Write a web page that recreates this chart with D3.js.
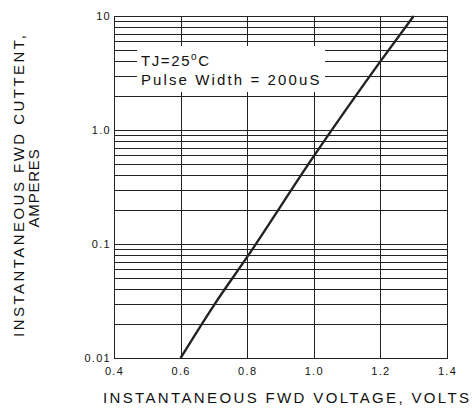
<!DOCTYPE html>
<html>
<head>
<meta charset="utf-8">
<style>
  body { margin: 0; background: #fff; }
  svg { font-family: "Liberation Sans", Arial, sans-serif; }
  .grid line { stroke: #222; stroke-width: 1px; shape-rendering: crispEdges; }
  .tick text { font-size: 11px; letter-spacing: 1.3px; fill: #111; }
  .label { font-size: 15px; fill: #111; }
  .note { font-size: 15px; letter-spacing: 1.6px; fill: #111; }
</style>
</head>
<body>
<script src="https://cdn.jsdelivr.net/npm/d3@7"></script>
<script>
// forward voltage (V) vs instantaneous current (A)
var voltage = [0.6, 0.7, 0.8, 1.0, 1.2, 1.3];
var current = [0.01, 0.029, 0.077, 0.59, 4.0, 10];

var xTicks = [0.4, 0.6, 0.8, 1.0, 1.2, 1.4];
var xTickLabels = ["0.4", "0.6", "0.8", "1.0", "1.2", "1.4"];
var yTicks = [0.01, 0.1, 1, 10];
var yTickLabels = ["0.01", "0.1", "1.0", "10"];

var W = 472, H = 412;
var margin = {top: 16, right: 25, bottom: 54, left: 114};
var width = W - margin.left - margin.right,
    height = H - margin.top - margin.bottom;

var svg = d3.select("body").append("svg")
    .attr("width", W)
    .attr("height", H);

var g = svg.append("g")
    .attr("transform", "translate(" + margin.left + "," + margin.top + ")");

var x = d3.scaleLinear().domain([0.4, 1.4]).range([0, width]);
var y = d3.scaleLog().domain([0.01, 10]).range([height, 0]);

// minor log lines 2..9 in every decade
var yMinor = [];
[0.01, 0.1, 1].forEach(function(d) {
  for (var k = 2; k <= 9; k++) yMinor.push(+(d * k).toPrecision(3));
});

var grid = g.append("g").attr("class", "grid");
grid.selectAll(".h")
    .data(yTicks.concat(yMinor))
  .enter().append("line")
    .attr("x1", 0).attr("x2", width)
    .attr("y1", function(d) { return Math.round(y(d)) + 0.5; })
    .attr("y2", function(d) { return Math.round(y(d)) + 0.5; });
grid.selectAll(".v")
    .data(xTicks)
  .enter().append("line")
    .attr("y1", 0).attr("y2", height)
    .attr("x1", function(d) { return Math.round(x(d)) + 0.5; })
    .attr("x2", function(d) { return Math.round(x(d)) + 0.5; });

// white box behind the test conditions
g.append("rect")
    .attr("x", 23).attr("y", 30)
    .attr("width", 188).attr("height", 46)
    .attr("fill", "#fff");

var note = g.append("text").attr("class", "note")
    .attr("x", 27).attr("y", 50);
note.append("tspan").text("TJ=25");
note.append("tspan").attr("dy", -6).style("font-size", "10px").text("o");
note.append("tspan").attr("dy", 6).text("C");
g.append("text").attr("class", "note")
    .attr("x", 27).attr("y", 69)
    .attr("textLength", 180).attr("lengthAdjust", "spacing")
    .text("Pulse Width = 200uS");

// frame
g.append("rect")
    .attr("x", 0.5).attr("y", 0.5)
    .attr("width", width).attr("height", height)
    .attr("fill", "none").attr("stroke", "#222");

// the curve
var line = d3.line()
    .curve(d3.curveMonotoneX)
    .x(function(d, i) { return x(voltage[i]); })
    .y(function(d) { return y(d); });

g.append("path")
    .datum(current)
    .attr("fill", "none")
    .attr("stroke", "#222")
    .attr("stroke-width", 2.4)
    .attr("d", line);

// axes (labels only)
g.append("g")
    .attr("transform", "translate(0," + height + ")")
    .call(d3.axisBottom(x).tickValues(xTicks).tickSize(0).tickPadding(9)
      .tickFormat(function(d, i) { return xTickLabels[i]; }))
    .call(function(a) { a.select(".domain").remove(); });

g.append("g")
    .call(d3.axisLeft(y).tickValues(yTicks).tickSize(0).tickPadding(3)
      .tickFormat(function(d, i) { return yTickLabels[i]; }))
    .call(function(a) { a.select(".domain").remove(); });

// axis titles
svg.append("text").attr("class", "label")
    .attr("x", 103).attr("y", 403)
    .attr("textLength", 366).attr("lengthAdjust", "spacing")
    .text("INSTANTANEOUS FWD VOLTAGE, VOLTS");

var yl = svg.append("g")
    .attr("transform", "translate(24,0) rotate(-90)");
yl.append("text").attr("class", "label")
    .attr("x", -337).attr("y", 0)
    .attr("textLength", 302).attr("lengthAdjust", "spacing")
    .text("INSTANTANEOUS FWD CUTTENT,");
yl.append("text").attr("class", "label")
    .attr("x", -188).attr("y", 15)
    .attr("text-anchor", "middle")
    .style("letter-spacing", "0.8px")
    .text("AMPERES");
</script>
</body>
</html>
